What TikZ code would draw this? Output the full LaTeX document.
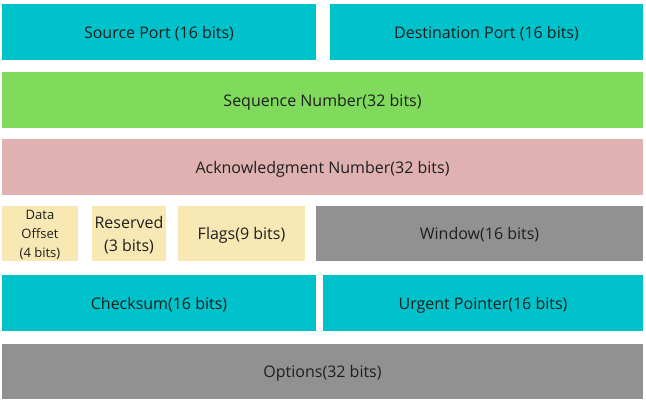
\documentclass[tikz,border=0pt]{standalone}
\usepackage{fontspec}
\setmainfont{Open Sans}
\definecolor{portcyan}{HTML}{00C2CB}
\definecolor{seqgreen}{HTML}{80DA5B}
\definecolor{ackpink}{HTML}{DFB1B1}
\definecolor{fieldgray}{HTML}{919191}
\definecolor{flagyellow}{HTML}{F8E8B3}
\begin{document}
\begin{tikzpicture}[x=1pt,y=-1pt,
    field/.style={inner sep=0pt, minimum height=56pt, align=center, text depth=0pt,
      text=black!88, font=\fontsize{16}{23}\selectfont}]
  \useasboundingbox (0,0) rectangle (646,401);
  % row 1
  \node[field, fill=portcyan, minimum width=314pt] (srcport) at (159,32) {Source Port (16 bits)};
  \node[field, fill=portcyan, minimum width=313pt] (dstport) at (486.5,32) {Destination Port (16 bits)};
  % row 2 and 3
  \node[field, fill=seqgreen, minimum width=641pt] (seqnum) at (322.5,100) {Sequence Number(32 bits)};
  \node[field, fill=ackpink, minimum width=641pt] (acknum) at (322.5,167) {Acknowledgment Number(32 bits)};
  % row 4
  \node[field, fill=flagyellow, minimum width=76pt, minimum height=55pt,
    font=\fontsize{13}{19}\selectfont] (offset) at (40,233.5) {Data\\Offset\\(4 bits)};
  \node[field, fill=flagyellow, minimum width=74pt, minimum height=55pt] (reserved) at (129,233.5) {Reserved\\(3 bits)};
  \node[field, fill=flagyellow, minimum width=127pt, minimum height=55pt] (flags) at (241.5,233.5) {Flags(9 bits)};
  \node[field, fill=fieldgray, minimum width=327pt, minimum height=55pt] (window) at (479.5,233.5) {Window(16 bits)};
  % row 5
  \node[field, fill=portcyan, minimum width=314pt] (checksum) at (159,303) {Checksum(16 bits)};
  \node[field, fill=portcyan, minimum width=320pt] (urgent) at (483,303) {Urgent Pointer(16 bits)};
  % row 6
  \node[field, fill=fieldgray, minimum width=641pt, minimum height=55pt] (options) at (322.5,371.5) {Options(32 bits)};
\end{tikzpicture}
\end{document}
